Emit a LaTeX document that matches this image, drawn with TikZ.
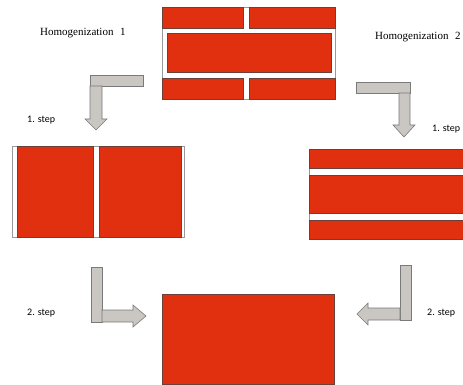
\documentclass[tikz,border=0pt]{standalone}
\usepackage{fontspec}
\setmainfont{Liberation Serif}
\newfontfamily\stepfont{Carlito}
\definecolor{brickred}{HTML}{E0300F}
\definecolor{brickedge}{HTML}{6A4038}
\definecolor{arrowfill}{HTML}{CAC6C2}
\definecolor{arrowedge}{HTML}{7A7A7A}
\tikzset{
  brick/.style={fill=brickred, draw=brickedge, line width=0.7pt},
  frame/.style={fill=white, draw=gray!80, line width=0.7pt},
  blockarrow/.style={fill=arrowfill, draw=arrowedge, line width=0.6pt, line join=miter},
  title/.style={font=\fontsize{11}{13}\selectfont, anchor=west, inner sep=0pt},
  steplabel/.style={font=\stepfont\fontsize{10}{12}\selectfont, anchor=west, inner sep=0pt}
}
\begin{document}
\begin{tikzpicture}[x=1pt,y=-1pt]
\useasboundingbox (0,0) rectangle (463,385);
\clip (0,0) rectangle (463,385);
% top block
\draw[frame] (162,7) rectangle (335,99);
\draw[brick] (162,7) rectangle (243,28);
\draw[brick] (249,7) rectangle (335,28);
\draw[brick] (167,33) rectangle (331,72);
\draw[brick] (162,78) rectangle (243,99);
\draw[brick] (249,78) rectangle (335,99);
% left block
\draw[frame] (12,146) rectangle (184,237);
\draw[brick] (17,146) rectangle (93,237);
\draw[brick] (99,146) rectangle (181,237);
% right block
\draw[frame] (309,149) rectangle (470,239);
\draw[brick] (309,149) rectangle (470,168);
\draw[brick] (309,175) rectangle (470,213);
\draw[brick] (309,220) rectangle (470,239);
% bottom block
\draw[brick] (162,294) rectangle (334,384);
% arrow 1
\draw[blockarrow] (90,75) rectangle (143,86);
\draw[blockarrow] (90,86) -- (102,86) -- (102,119) -- (107,119) -- (96,130) -- (85,119) -- (90,119) -- cycle;
% arrow 2
\draw[blockarrow] (356,82) rectangle (410,93);
\draw[blockarrow] (399,93) -- (410,93) -- (410,125) -- (415,125) -- (404,137) -- (393,125) -- (399,125) -- cycle;
% arrow 3
\draw[blockarrow] (91,267) rectangle (102,322);
\draw[blockarrow] (102,310) -- (133,310) -- (133,305) -- (146,316) -- (133,327) -- (133,322) -- (102,322) -- cycle;
% arrow 4
\draw[blockarrow] (400,265) rectangle (411,320);
\draw[blockarrow] (400,308) -- (368,308) -- (368,303) -- (357,314) -- (368,325) -- (368,320) -- (400,320) -- cycle;
% labels
\node[title] (h1) at (40,33) {Homogenization\hspace{0.6em}1};
\node[title] (h2) at (375,37) {Homogenization\hspace{0.6em}2};
\node[steplabel] (s1l) at (27,120) {1. step};
\node[steplabel] (s1r) at (432,129) {1. step};
\node[steplabel] (s2l) at (27,313) {2. step};
\node[steplabel] (s2r) at (427,313) {2. step};
\end{tikzpicture}
\end{document}
